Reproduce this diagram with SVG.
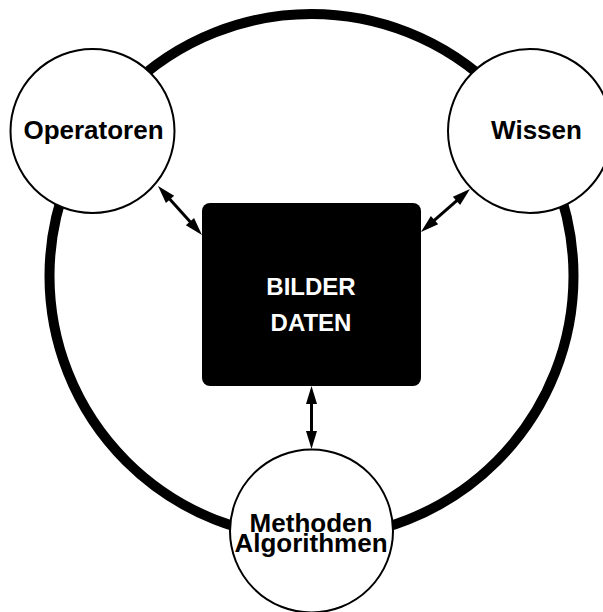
<svg xmlns="http://www.w3.org/2000/svg" width="603" height="612" viewBox="0 0 603 612">
  <style>
    .ring { fill: none; stroke: #000; stroke-width: 10; }
    .node { fill: #fff; stroke: #000; stroke-width: 2; }
    .label { font-family: "Liberation Sans", Arial, sans-serif; font-weight: bold; font-size: 26px; text-anchor: middle; fill: #000; }
    .core { fill: #000; }
    .core-label { font-family: "Liberation Sans", Arial, sans-serif; font-weight: bold; font-size: 24px; text-anchor: middle; fill: #fff; }
    .link { stroke: #000; stroke-width: 3; fill: none; marker-start: url(#tip); marker-end: url(#tip); }
  </style>
  <defs>
    <marker id="tip" markerUnits="userSpaceOnUse" viewBox="-10 -6 22 12" markerWidth="22" markerHeight="12" refX="0" refY="0" orient="auto-start-reverse">
      <path d="M-8,-5.5 L10,0 L-8,5.5 z" fill="#000"/>
    </marker>
  </defs>

  <rect width="603" height="612" fill="#fff"/>

  <!-- outer cycle -->
  <circle class="ring" cx="311.5" cy="276" r="262"/>

  <!-- two-way connectors -->
  <g id="connectors">
    <line class="link" x1="164.7" y1="193.4" x2="195.3" y2="227.6"/>
    <line class="link" x1="462.5" y1="195.6" x2="428.5" y2="225.4"/>
    <line class="link" x1="311.5" y1="396" x2="311.5" y2="439"/>
  </g>

  <g id="operatoren">
    <circle class="node" cx="92.5" cy="131" r="82"/>
    <text class="label" x="93.5" y="139">Operatoren</text>
  </g>

  <g id="wissen">
    <circle class="node" cx="530" cy="131" r="82"/>
    <text class="label" x="536.5" y="139">Wissen</text>
  </g>

  <g id="methoden">
    <circle class="node" cx="311.5" cy="531" r="81.5"/>
    <text class="label" x="311" y="532">Methoden</text>
    <text class="label" x="311" y="552">Algorithmen</text>
  </g>

  <g id="bilder-daten">
    <rect class="core" x="202" y="203" width="219" height="183" rx="8" ry="8"/>
    <text class="core-label" x="311" y="295">BILDER</text>
    <text class="core-label" x="311" y="331">DATEN</text>
  </g>
</svg>
